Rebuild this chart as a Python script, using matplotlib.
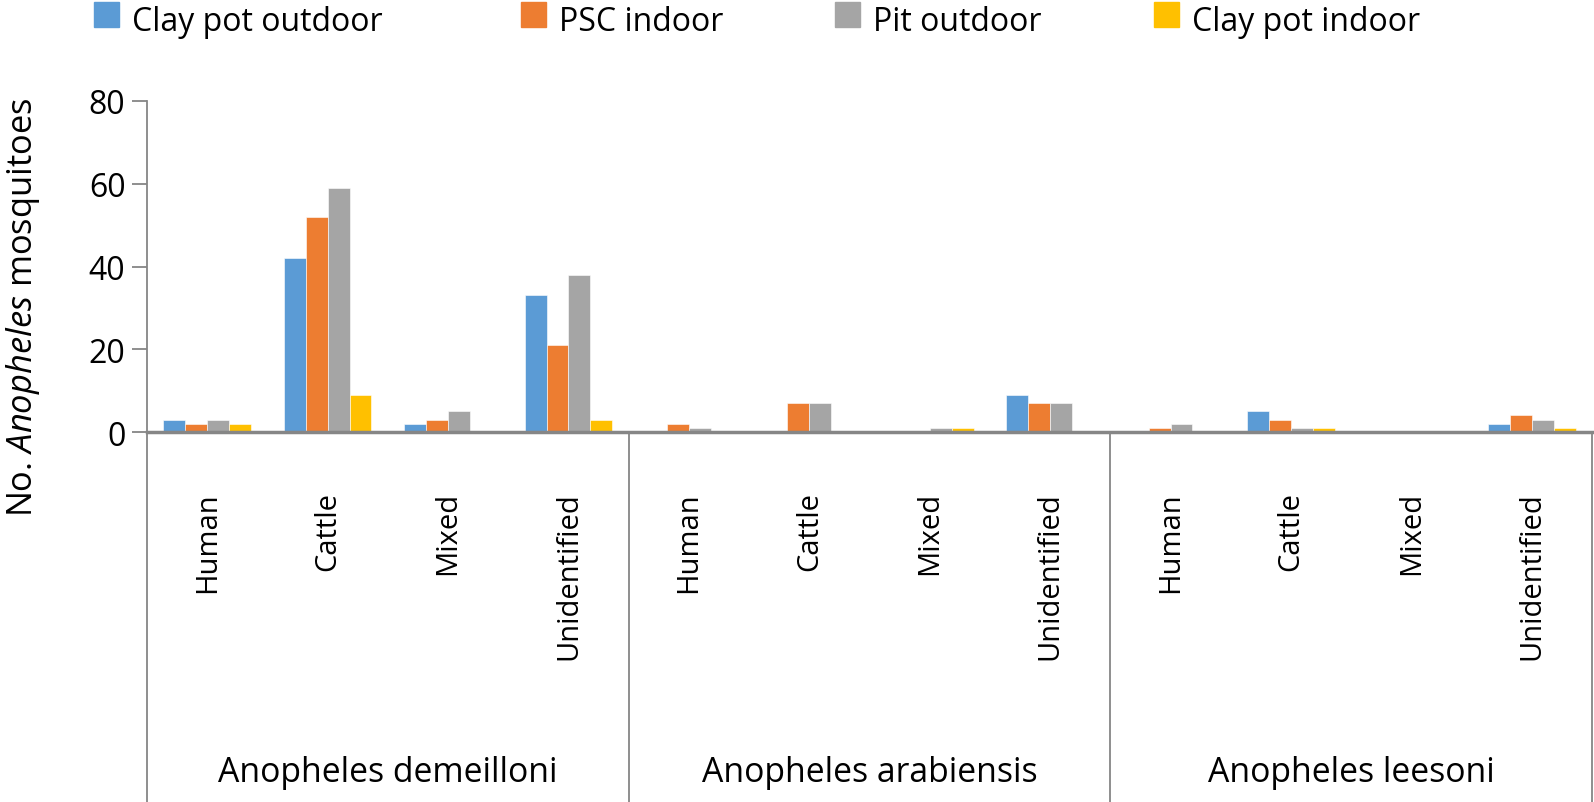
import matplotlib
matplotlib.use("Agg")
import matplotlib.pyplot as plt
import matplotlib.transforms as mtransforms
from matplotlib.patches import Rectangle
import numpy as np

plt.rcParams['font.family'] = ['Open Sans', 'DejaVu Sans']
plt.rcParams['mathtext.fontset'] = 'custom'
plt.rcParams['mathtext.rm'] = 'Open Sans'
plt.rcParams['mathtext.it'] = 'Open Sans:italic'

species = ["Anopheles demeilloni", "Anopheles arabiensis", "Anopheles leesoni"]
hosts = ["Human", "Cattle", "Mixed", "Unidentified"]
series = ["Clay pot outdoor", "PSC indoor", "Pit outdoor", "Clay pot indoor"]
colors = ["#5B9BD5", "#ED7D31", "#A5A5A5", "#FFC000"]

clay_pot_outdoor = [3, 42, 2, 33, 0, 0, 0, 9, 0, 5, 0, 2]
psc_indoor = [2, 52, 3, 21, 2, 7, 0, 7, 1, 3, 0, 4]
pit_outdoor = [3, 59, 5, 38, 1, 7, 1, 7, 2, 1, 0, 3]
clay_pot_indoor = [2, 9, 0, 3, 0, 0, 1, 0, 0, 1, 0, 1]
values = [clay_pot_outdoor, psc_indoor, pit_outdoor, clay_pot_indoor]

yticks = [0, 20, 40, 60, 80]

W, H = 1594, 803
fig = plt.figure(figsize=(W / 100, H / 100), dpi=100)
ax_l, ax_r = 147 / W, 1592 / W
ax_b, ax_t = 1 - 433 / H, 1 - 102 / H
ax = fig.add_axes([ax_l, ax_b, ax_r - ax_l, ax_t - ax_b])

gray = "#868686"
n_cat = len(species) * len(hosts)
x = np.arange(n_cat) + 0.5
bw = 0.182
for i, (vals, c) in enumerate(zip(values, colors)):
    ax.bar(x + (i - 1.5) * bw, vals, width=bw, color=c, edgecolor="white",
           linewidth=0.4, label=series[i], zorder=2)

ax.set_xlim(0, n_cat)
ax.set_ylim(0, 80)
ax.set_yticks(yticks)
ax.set_xticks([])
for s in ["top", "right", "bottom"]:
    ax.spines[s].set_visible(False)
ax.spines["left"].set_color(gray)
ax.spines["left"].set_linewidth(1.3)
ax.tick_params(axis="y", direction="out", length=10.5, width=1.3, color=gray,
               labelsize=23, pad=5, labelcolor="black")
ax.axhline(0, color=gray, linewidth=2.5, zorder=3, clip_on=False)

ax.set_ylabel("No. $\\it{Anopheles}$ mosquitoes", fontsize=24.8)
ax.yaxis.set_label_coords(-0.073, 0.38)

trans = mtransforms.blended_transform_factory(ax.transData, ax.transAxes)
bottom_axes = -ax_b / (ax_t - ax_b)
for k in range(len(species) + 1):
    xs = k * len(hosts)
    ax.plot([xs, xs], [0, bottom_axes], color=gray, linewidth=1.3,
            transform=trans, clip_on=False)

for j in range(n_cat):
    ax.text(x[j], -0.178, hosts[j % len(hosts)], rotation=90, ha="center",
            va="top", fontsize=21, transform=trans)

for k, sp in enumerate(species):
    ax.text(k * len(hosts) + len(hosts) / 2, -1.054, sp, ha="center",
            va="baseline", fontsize=24.3, transform=trans)

# legend
leg_x = [94, 521, 835, 1154]
for lx, lab, c in zip(leg_x, series, colors):
    fig.add_artist(Rectangle((lx / W, 1 - 28 / H), 25 / W, 25 / H,
                             transform=fig.transFigure, color=c))
    fig.text((lx + 38) / W, 1 - 31 / H, lab, ha="left", va="baseline",
             fontsize=23)

fig.savefig("out.png", dpi=100)
